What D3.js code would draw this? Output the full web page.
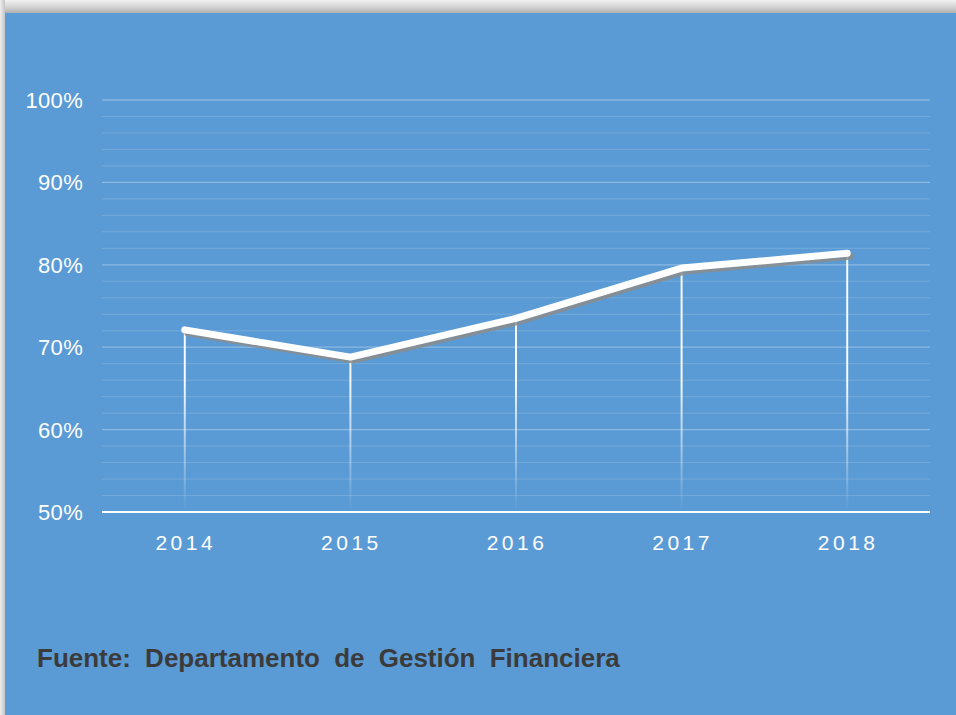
<html>
<head>
<script src="https://d3js.org/d3.v7.min.js"></script>
<style>
  body { margin: 0; background: #ffffff; }
  svg { display: block; }
</style>
</head>
<body>
<svg id="chart" width="956" height="715"></svg>
<script>
// data
var years = ["2014", "2015", "2016", "2017", "2018"];
var values = [72.1, 68.8, 73.5, 79.6, 81.4];
var yTicks = [50, 60, 70, 80, 90, 100];
var source = "Fuente: Departamento de Gestión Financiera";

var data = years.map(function(y, i) { return { year: y, value: values[i] }; });

var svg = d3.select("#chart");
var defs = svg.append("defs");

// frame shadow (top and left)
var topGrad = defs.append("linearGradient").attr("id", "topShade")
  .attr("x1", 0).attr("y1", 0).attr("x2", 0).attr("y2", 1);
topGrad.append("stop").attr("offset", "0%").attr("stop-color", "#f2f2f2");
topGrad.append("stop").attr("offset", "55%").attr("stop-color", "#d2d2d2");
topGrad.append("stop").attr("offset", "100%").attr("stop-color", "#b0b0b0");
svg.append("rect").attr("x", 0).attr("y", 0).attr("width", 956).attr("height", 13).attr("fill", "url(#topShade)");
var leftGrad = defs.append("linearGradient").attr("id", "leftShade")
  .attr("x1", 0).attr("y1", 0).attr("x2", 1).attr("y2", 0);
leftGrad.append("stop").attr("offset", "0%").attr("stop-color", "#eeeeee");
leftGrad.append("stop").attr("offset", "100%").attr("stop-color", "#c4c4c4");
svg.append("rect").attr("x", 0).attr("y", 0).attr("width", 5).attr("height", 715).attr("fill", "url(#leftShade)");

// blue panel
svg.append("rect").attr("x", 5).attr("y", 13).attr("width", 951).attr("height", 702).attr("fill", "#5b9bd5");

// drop line gradient
var dropGrad = defs.append("linearGradient").attr("id", "dropFade")
  .attr("gradientUnits", "userSpaceOnUse")
  .attr("x1", 0).attr("y1", 380).attr("x2", 0).attr("y2", 510);
dropGrad.append("stop").attr("offset", "0%").attr("stop-color", "#ffffff").attr("stop-opacity", 0.95);
dropGrad.append("stop").attr("offset", "100%").attr("stop-color", "#ffffff").attr("stop-opacity", 0);

var plotLeft = 102, plotRight = 930, plotTop = 100, plotBottom = 512;

var x = d3.scalePoint().domain(years).range([plotLeft, plotRight]).padding(0.5);
var y = d3.scaleLinear().domain([50, 100]).range([plotBottom, plotTop]);

// minor gridlines every 2%
var minor = d3.range(52, 100, 2).filter(function(v) { return v % 10 !== 0; });
svg.append("g").selectAll("line").data(minor).enter().append("line")
  .attr("x1", plotLeft).attr("x2", plotRight)
  .attr("y1", function(d) { return y(d); }).attr("y2", function(d) { return y(d); })
  .attr("stroke", "#ffffff").attr("stroke-opacity", 0.15).attr("stroke-width", 1);

// major gridlines
svg.append("g").selectAll("line").data(yTicks.filter(function(d) { return d > 50; })).enter().append("line")
  .attr("x1", plotLeft).attr("x2", plotRight)
  .attr("y1", function(d) { return y(d); }).attr("y2", function(d) { return y(d); })
  .attr("stroke", "#ffffff").attr("stroke-opacity", 0.3).attr("stroke-width", 1.3);

// y labels
svg.append("g").selectAll("text").data(yTicks).enter().append("text")
  .attr("x", 83).attr("y", function(d) { return y(d); })
  .attr("dy", "0.36em")
  .attr("text-anchor", "end")
  .attr("font-family", "Liberation Sans, Arial, sans-serif")
  .attr("font-size", 22)
  .attr("letter-spacing", 0.3)
  .attr("fill", "#ffffff")
  .text(function(d) { return d + "%"; });

// drop lines
svg.append("g").selectAll("line").data(data).enter().append("line")
  .attr("x1", function(d) { return x(d.year); }).attr("x2", function(d) { return x(d.year); })
  .attr("y1", function(d) { return y(d.value); }).attr("y2", plotBottom - 2)
  .attr("stroke", "url(#dropFade)").attr("stroke-width", 2);

// baseline
svg.append("line").attr("x1", plotLeft).attr("x2", plotRight).attr("y1", plotBottom).attr("y2", plotBottom)
  .attr("stroke", "#ffffff").attr("stroke-width", 2.2);

// x labels
svg.append("g").selectAll("text").data(years).enter().append("text")
  .attr("x", function(d) { return x(d) + 1; }).attr("y", 550)
  .attr("text-anchor", "middle")
  .attr("font-family", "Liberation Sans, Arial, sans-serif")
  .attr("font-size", 21)
  .attr("letter-spacing", 3.5)
  .attr("fill", "#ffffff")
  .text(function(d) { return d; });

// line with shadow
var line = d3.line().x(function(d) { return x(d.year); }).y(function(d) { return y(d.value); });
svg.append("path").datum(data)
  .attr("d", line)
  .attr("transform", "translate(3,3)")
  .attr("fill", "none").attr("stroke", "#8c8c8c").attr("stroke-opacity", 0.85)
  .attr("stroke-width", 7).attr("stroke-linecap", "round").attr("stroke-linejoin", "round");
svg.append("path").datum(data)
  .attr("d", line)
  .attr("fill", "none").attr("stroke", "#ffffff")
  .attr("stroke-width", 7).attr("stroke-linecap", "round").attr("stroke-linejoin", "round");

// source
svg.append("text")
  .attr("x", 37).attr("y", 667)
  .attr("font-family", "Liberation Sans, Arial, sans-serif")
  .attr("font-size", 26).attr("font-weight", "bold")
  .attr("word-spacing", 7)
  .attr("fill", "#3b3b3b")
  .text(source);
</script>
</body>
</html>
